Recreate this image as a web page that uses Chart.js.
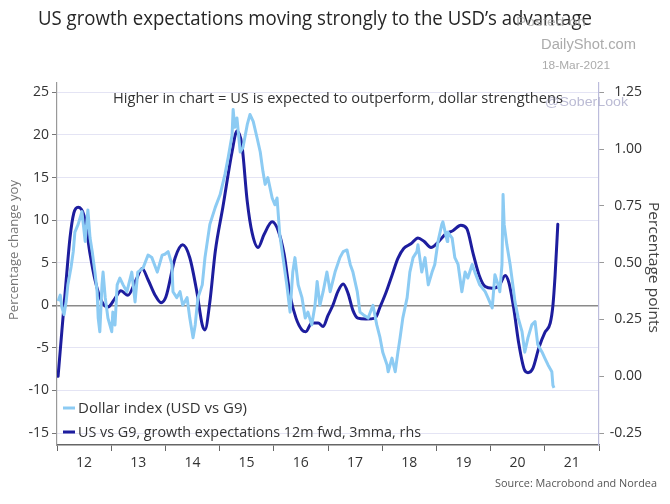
<!DOCTYPE html>
<html><head><meta charset="utf-8">
<script src="https://cdn.jsdelivr.net/npm/chart.js@4"></script>
<style>html,body{margin:0;padding:0;background:#fff;}#wrap{width:670px;height:504px;position:relative;}</style>
</head><body><div id="wrap"><canvas id="c" width="670" height="504"></canvas></div>
<script>
const titleText = "US growth expectations moving strongly to the USD\u2019s advantage";
const noteText = "Higher in chart = US is expected to outperform, dollar strengthens";
const sourceText = "Source: Macrobond and Nordea";
const leftAxisTitle = "Percentage change yoy";
const rightAxisTitle = "Percentage points";
const seriesNames = ["Dollar index (USD vs G9)", "US vs G9, growth expectations 12m fwd, 3mma, rhs"];
const xYears = [2012,2013,2014,2015,2016,2017,2018,2019,2020,2021,2022];
const xTickLabels = ['12','13','14','15','16','17','18','19','20','21',''];
const leftTicks = [-15,-10,-5,0,5,10,15,20,25];
const rightTicks = [-0.25,0,0.25,0.5,0.75,1,1.25];

const dollarDates = [2012.02,2012.06,2012.09,2012.13,2012.17,2012.20,2012.26,2012.30,2012.33,2012.39,2012.46,2012.52,2012.57,2012.61,2012.65,2012.70,2012.74,2012.76,2012.79,2012.83,2012.85,2012.89,2012.94,2013.01,2013.03,2013.07,2013.11,2013.16,2013.22,2013.29,2013.38,2013.44,2013.49,2013.59,2013.68,2013.75,2013.85,2013.94,2013.99,2014.05,2014.12,2014.14,2014.21,2014.27,2014.32,2014.40,2014.45,2014.51,2014.55,2014.60,2014.68,2014.73,2014.82,2014.92,2015.01,2015.10,2015.16,2015.23,2015.25,2015.28,2015.32,2015.38,2015.43,2015.51,2015.56,2015.62,2015.69,2015.75,2015.80,2015.84,2015.89,2015.97,2016.02,2016.06,2016.11,2016.17,2016.24,2016.30,2016.35,2016.39,2016.45,2016.52,2016.58,2016.63,2016.70,2016.76,2016.80,2016.85,2016.91,2016.98,2017.04,2017.13,2017.22,2017.28,2017.35,2017.41,2017.46,2017.54,2017.59,2017.65,2017.74,2017.83,2017.90,2017.96,2018.01,2018.09,2018.11,2018.18,2018.24,2018.29,2018.33,2018.38,2018.46,2018.51,2018.57,2018.64,2018.66,2018.73,2018.79,2018.85,2018.92,2018.97,2019.03,2019.10,2019.12,2019.20,2019.21,2019.29,2019.34,2019.40,2019.47,2019.53,2019.58,2019.66,2019.71,2019.80,2019.90,2019.95,2020.03,2020.08,2020.14,2020.17,2020.21,2020.23,2020.25,2020.30,2020.36,2020.41,2020.45,2020.51,2020.58,2020.63,2020.69,2020.76,2020.82,2020.87,2020.95,2021.00,2021.06,2021.13,2021.15,2021.17];
const dollarValues = [0.5,1.2,-0.2,-1.1,0.5,2.4,4.5,6.3,8.6,9.5,11.0,7.5,11.2,7.9,6.3,3.9,1.6,-1.5,-3.1,2.4,3.9,0.9,-1.5,-3.1,-0.8,-2.3,2.4,3.2,2.4,1.6,3.9,0.4,3.9,4.4,5.9,5.6,3.9,5.9,6.0,6.3,4.8,1.6,0.9,1.6,0.0,0.9,-1.5,-3.8,-2.3,0.9,2.4,5.6,9.5,11.5,13.0,15.4,17.4,20.0,23.0,20.9,22.0,18.0,18.5,21.2,22.4,21.6,19.7,18.0,15.7,14.2,15.0,12.6,11.8,12.6,8.3,5.6,2.4,-0.8,3.9,5.6,2.4,0.9,-1.5,-0.8,-2.3,0.0,2.8,0.0,1.6,3.9,1.6,3.9,5.6,6.3,6.5,4.8,3.9,1.6,-0.8,-1.1,-1.5,0.0,-2.3,-3.8,-5.5,-7.0,-7.8,-6.2,-7.8,-5.5,-3.8,-1.5,0.9,3.9,5.6,6.3,7.1,3.9,5.6,2.4,3.9,4.8,7.5,9.5,9.8,7.5,8.6,7.9,5.6,4.8,1.6,3.9,3.2,4.8,3.9,2.4,1.6,0.9,-0.3,3.6,2.4,1.6,4.8,13.0,9.5,7.1,4.8,2.4,0.4,-1.5,-3.1,-5.5,-3.8,-2.3,-1.9,-4.6,-5.5,-6.2,-7.0,-7.8,-9.4,-9.7];

const growthDates = [2012.02,2012.09,2012.17,2012.24,2012.31,2012.39,2012.50,2012.61,2012.70,2012.83,2012.94,2013.07,2013.18,2013.31,2013.46,2013.57,2013.68,2013.81,2013.92,2014.01,2014.18,2014.32,2014.45,2014.58,2014.68,2014.73,2014.82,2014.92,2015.06,2015.23,2015.32,2015.41,2015.51,2015.60,2015.71,2015.82,2015.97,2016.08,2016.19,2016.30,2016.41,2016.52,2016.59,2016.70,2016.82,2016.91,2017.00,2017.09,2017.18,2017.28,2017.37,2017.46,2017.55,2017.70,2017.87,2017.96,2018.07,2018.18,2018.29,2018.40,2018.53,2018.66,2018.77,2018.90,2019.03,2019.16,2019.31,2019.45,2019.56,2019.68,2019.79,2019.90,2020.03,2020.16,2020.27,2020.34,2020.43,2020.52,2020.62,2020.69,2020.78,2020.89,2021.00,2021.10,2021.15,2021.19,2021.24];
const growthValues = [0.00,0.20,0.425,0.61,0.718,0.744,0.706,0.538,0.425,0.327,0.305,0.343,0.376,0.357,0.425,0.474,0.425,0.357,0.324,0.35,0.522,0.579,0.522,0.372,0.226,0.204,0.327,0.549,0.744,0.988,1.08,1.021,0.77,0.631,0.567,0.624,0.68,0.642,0.538,0.357,0.256,0.204,0.196,0.234,0.234,0.219,0.268,0.3125,0.372,0.406,0.365,0.29,0.256,0.252,0.256,0.305,0.369,0.444,0.519,0.564,0.583,0.609,0.594,0.567,0.59,0.624,0.642,0.665,0.65,0.538,0.444,0.395,0.388,0.399,0.444,0.41,0.294,0.144,0.031,0.016,0.035,0.125,0.192,0.234,0.3125,0.444,0.669];

const lightBlue = '#8ccbf3';
const navy = '#1d1d9e';

function fitText(ctx, text, x, y, font, color, width) {
  ctx.save();
  ctx.font = font;
  ctx.fillStyle = color;
  ctx.textBaseline = 'alphabetic';
  ctx.textAlign = 'left';
  const w = ctx.measureText(text).width;
  const s = width ? width / w : 1;
  ctx.translate(x, y);
  ctx.scale(s, 1);
  ctx.fillText(text, 0, 0);
  ctx.restore();
}

const decor = {
  id: 'decor',
  afterDraw(chart) {
    const ctx = chart.ctx;
    fitText(ctx, titleText, 38, 25, '20px "Open Sans"', '#262626', 554);
    fitText(ctx, 'Posted on', 516, 26, '12px "Liberation Sans"', 'rgba(160,160,160,0.75)', 70);
    fitText(ctx, 'DailyShot.com', 541, 49, '14px "Liberation Sans"', '#ababab', 95);
    fitText(ctx, '18-Mar-2021', 542, 69, '11px "Liberation Sans"', '#ababab', 68);
    fitText(ctx, '@SoberLook', 545, 106, '13px "Liberation Sans"', 'rgba(175,175,205,0.85)', 83);
    fitText(ctx, noteText, 113, 103, '14px "Open Sans"', '#333', 450);
    fitText(ctx, sourceText, 495, 487, '11px "Open Sans"', '#555', 162);
    ctx.save();
    ctx.translate(18, 250); ctx.rotate(-Math.PI/2);
    fitText(ctx, leftAxisTitle, -70, 0, '13px "Open Sans"', '#777', 140);
    ctx.restore();
    ctx.save();
    ctx.translate(649, 268); ctx.rotate(Math.PI/2);
    fitText(ctx, rightAxisTitle, -66, 0, '14px "Open Sans"', '#444', 131);
    ctx.restore();
    const rows = [{y:408, c: lightBlue, w:169}, {y:432, c: navy, w:343}];
    rows.forEach((r, i) => {
      ctx.save();
      ctx.strokeStyle = r.c; ctx.lineWidth = 3;
      ctx.beginPath(); ctx.moveTo(63, r.y); ctx.lineTo(75, r.y); ctx.stroke();
      ctx.restore();
      fitText(ctx, seriesNames[i], 78, r.y + 5, '14px "Open Sans"', '#333', r.w);
    });
  }
};

new Chart(document.getElementById('c'), {
  type: 'line',
  data: {
    datasets: [
      { label: seriesNames[0], data: dollarDates.map((d, i) => ({x: d, y: dollarValues[i]})), yAxisID: 'y',
        borderColor: lightBlue, borderWidth: 3, pointRadius: 0, tension: 0, borderJoinStyle: 'round' },
      { label: seriesNames[1], data: growthDates.map((d, i) => ({x: d, y: growthValues[i]})), yAxisID: 'y2',
        borderColor: navy, borderWidth: 3, pointRadius: 0, cubicInterpolationMode: 'monotone', borderCapStyle: 'round' }
    ]
  },
  options: {
    responsive: false, animation: false,
    layout: { padding: { top: 83, left: 0, right: 28, bottom: 0 } },
    plugins: { legend: { display: false }, tooltip: { enabled: false } },
    scales: {
      x: {
        type: 'linear', min: 2012, max: 2022,
        afterBuildTicks: s => { s.ticks = xYears.map(v => ({value: v})); },
        afterFit: s => { s.height = 59; },
        ticks: { callback: (v, i) => xTickLabels[i] || '', labelOffset: 27, color: '#333', font: { size: 14, family: 'Open Sans' }, padding: 4, maxRotation: 0, autoSkip: false },
        grid: { drawOnChartArea: false, drawTicks: true, tickLength: 6, tickColor: '#666' },
        border: { color: '#666', width: 1.5 }
      },
      y: {
        position: 'left', min: -16.4, max: 26.1,
        afterBuildTicks: s => { s.ticks = leftTicks.map(v => ({value: v})); },
        afterFit: s => { s.width = 57; },
        ticks: { color: '#333', font: { size: 14, family: 'Open Sans' }, padding: 3 },
        grid: {
          color: c => (c.tick && c.tick.value === 0) ? '#8a8a8a' : '#e4e4f4',
          lineWidth: c => (c.tick && c.tick.value === 0) ? 1.6 : 1,
          tickColor: '#777', tickLength: 5
        },
        border: { color: '#999', width: 1.2 }
      },
      y2: {
        position: 'right', min: -0.3025, max: 1.291,
        afterBuildTicks: s => { s.ticks = rightTicks.map(v => ({value: v})); },
        afterFit: s => { s.width = 43; },
        ticks: { callback: v => Number(v).toFixed(2), color: '#333', font: { size: 14, family: 'Open Sans' }, padding: 3, crossAlign: 'far' },
        grid: { drawOnChartArea: false, tickColor: '#999', tickLength: 5 },
        border: { color: '#bcbcdc', width: 1.2 }
      }
    }
  },
  plugins: [decor]
});
</script></body></html>
